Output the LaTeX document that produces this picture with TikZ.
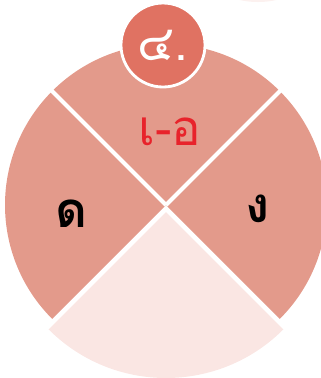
\documentclass[tikz,border=0pt]{standalone}
\usepackage{fontspec}
\newfontfamily\thaifont[Script=Thai]{Loma}
\usetikzlibrary{positioning}
\definecolor{petal}{HTML}{E39A8B}
\definecolor{petallight}{HTML}{FAE6E3}
\definecolor{badgefill}{HTML}{E07262}
\definecolor{vowelred}{HTML}{E8232B}
\definecolor{haze}{HTML}{FCF1EF}
\tikzset{
  quarter/.style={fill=petal},
  split/.style={draw=white, line width=3.4pt},
  letter/.style={font=\thaifont\bfseries\fontsize{42}{48}\selectfont, inner sep=0pt},
  vowelmark/.style={font=\thaifont\fontsize{42}{48}\selectfont, inner sep=0pt, text=vowelred},
  badge/.style={circle, fill=badgefill, draw=white, line width=2.4pt,
    minimum size=2.52cm, inner sep=0pt, text=white,
    font=\thaifont\fontsize{42}{48}\selectfont},
}
\begin{document}
\begin{tikzpicture}[x=0.03cm, y=-0.03cm]
  \useasboundingbox (0,0) rectangle (321,378);
  \clip (0,0) rectangle (321,378);
  \coordinate (c) at (166,205);
  \coordinate (v) at (166,212);
  \fill[haze] (258,-40) ellipse [x radius=60, y radius=42];
  % three quarters round the centre
  \fill[quarter] (c) -- ++(225:161) arc[start angle=225, end angle=315, radius=161] -- cycle;
  \fill[quarter] (c) -- ++(135:161) arc[start angle=135, end angle=225, radius=161] -- cycle;
  \fill[quarter] (c) -- ++(-45:161) arc[start angle=-45, end angle=45, radius=161] -- cycle;
  \draw[split] (c) -- ++(225:170);
  \draw[split] (c) -- ++(315:170);
  % pulled-out lower quarter
  \fill[petallight] (v) -- ++(45:166) arc[start angle=45, end angle=135, radius=166] -- cycle;
  \node[badge] (num) at (163,45) {๔.};
  \node[vowelmark] (vowel) at (170,132) {เ-อ};
  \node[letter] (dodek) at (71,214) {ด};
  \node[letter] (ngongu) at (258,209) {ง};
\end{tikzpicture}
\end{document}
